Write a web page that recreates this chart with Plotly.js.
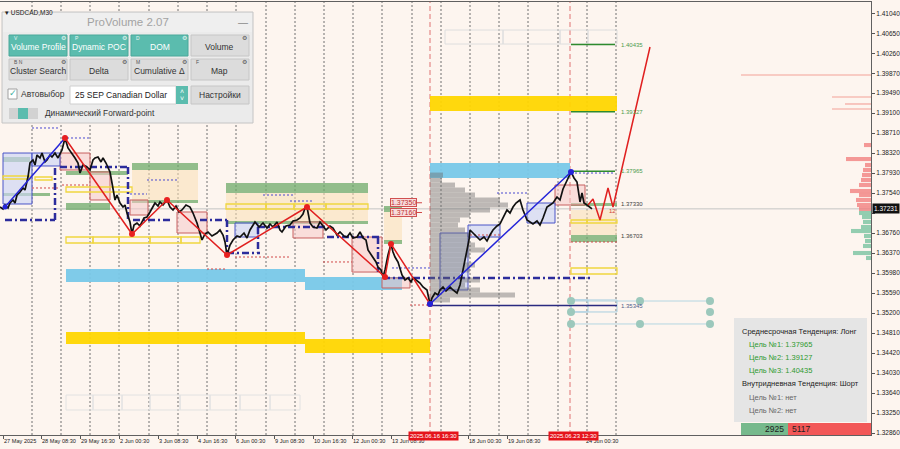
<!DOCTYPE html>
<html><head><meta charset="utf-8">
<script src="https://cdn.plot.ly/plotly-3.0.1.min.js"></script>
<style>html,body{margin:0;padding:0;background:#fdf5ef;}#chart{width:900px;height:449px;}</style>
</head><body><div id="chart"></div>
<script>
// ---------- DATA ----------
const pricePath = [[0,1.37267],[3,1.37228],[5,1.37306],[8,1.37248],[10,1.37345],[13,1.37404],[15,1.37345],[17,1.37501],[20,1.37560],[23,1.37638],[25,1.37599],[28,1.37852],[30,1.38125],[33,1.38184],[35,1.38086],[37,1.38281],[40,1.38223],[42,1.38320],[45,1.38145],[47,1.38184],[50,1.38281],[52,1.38242],[55,1.38320],[58,1.38223],[62,1.38379],[65,1.38613],[68,1.38418],[72,1.38320],[75,1.38223],[78,1.38125],[80,1.37930],[83,1.38086],[87,1.38047],[90,1.37989],[93,1.38184],[95,1.38223],[98,1.38242],[101,1.38145],[103,1.38223],[106,1.38125],[108,1.38047],[110,1.37950],[112,1.37735],[115,1.37404],[117,1.37501],[120,1.37345],[123,1.37267],[125,1.37306],[127,1.37150],[130,1.36975],[132,1.36741],[134,1.36916],[137,1.36955],[140,1.36897],[144,1.37053],[147,1.37072],[150,1.37170],[153,1.37267],[155,1.37345],[158,1.37287],[160,1.37365],[163,1.37306],[167,1.37404],[170,1.37267],[173,1.37209],[176,1.37287],[179,1.37170],[182,1.37209],[186,1.37306],[190,1.37267],[193,1.37150],[197,1.36955],[200,1.36780],[202,1.36624],[205,1.36741],[208,1.36780],[212,1.36702],[217,1.36760],[220,1.36819],[223,1.36721],[225,1.36585],[227,1.36331],[230,1.36526],[233,1.36624],[237,1.36702],[240,1.36682],[244,1.36760],[247,1.36663],[250,1.36819],[253,1.36916],[255,1.36975],[259,1.36877],[263,1.36955],[267,1.36858],[270,1.36936],[273,1.36877],[277,1.36975],[280,1.36819],[282,1.36780],[286,1.36897],[290,1.36916],[293,1.36994],[297,1.37014],[300,1.37053],[303,1.37131],[305,1.37248],[307,1.37267],[310,1.36955],[313,1.36877],[317,1.36858],[320,1.36975],[323,1.36897],[326,1.36819],[330,1.36897],[333,1.36858],[337,1.36721],[340,1.36780],[344,1.36702],[347,1.36682],[350,1.36760],[353,1.36663],[357,1.36682],[360,1.36780],[363,1.36663],[366,1.36624],[368,1.36429],[370,1.36370],[373,1.36273],[376,1.36195],[378,1.36097],[381,1.36039],[383,1.35902],[385,1.36039],[388,1.36331],[391,1.36546],[393,1.36390],[395,1.36292],[398,1.36195],[400,1.36078],[402,1.35941],[405,1.35844],[408,1.35883],[411,1.35805],[413,1.35883],[416,1.35844],[420,1.35785],[423,1.35707],[427,1.35649],[430,1.35376],[432,1.35493],[435,1.35590],[438,1.35551],[440,1.35649],[443,1.35707],[446,1.35629],[450,1.35707],[453,1.35649],[457,1.35590],[460,1.35746],[463,1.36039],[465,1.36234],[467,1.36429],[469,1.36624],[470,1.36819],[473,1.36760],[477,1.36682],[480,1.36624],[484,1.36682],[487,1.36604],[490,1.36721],[493,1.36819],[497,1.36897],[500,1.36936],[503,1.37053],[507,1.37209],[510,1.37150],[513,1.37267],[516,1.37345],[520,1.37404],[523,1.37209],[527,1.37014],[530,1.36975],[533,1.36936],[537,1.36994],[540,1.36916],[543,1.37053],[547,1.37267],[550,1.37306],[553,1.37345],[557,1.37462],[560,1.37404],[563,1.37618],[566,1.37755],[568,1.37833],[571,1.37950],[574,1.37833],[577,1.37755],[579,1.37501],[580,1.37365],[582,1.37540],[584,1.37345],[587,1.37306],[590,1.37267],[592,1.37231]];
const lastPrice = 1.37231;

const zzBlue1Bars = [5,65],   zzBlue1Price = [1.37267,1.38613];
const zzRedBars = [65,132,167,227,307,385,391,430];
const zzRedPrice = [1.38613,1.36741,1.37404,1.36331,1.37267,1.35902,1.36546,1.35376];
const zzBlue2Bars = [430,571], zzBlue2Price = [1.35376,1.37950];
const forecastBars = [588,593,600,608,613,650];
const forecastPrice = [1.37306,1.37423,1.37014,1.37638,1.37267,1.40387];

const vpPrice = [1.37891,1.37794,1.37696,1.37599,1.37501,1.37404,1.37306,1.37209,1.37111,1.37014,1.36916,1.36819,1.36721,1.36624,1.36526,1.36429,1.36331,1.36234,1.36136,1.36039,1.35941,1.35844,1.35746,1.35649,1.35551,1.35454];
const vpVolume = [13,12,25,35,45,70,78,60,40,30,28,35,40,38,45,55,40,35,45,40,30,50,35,50,85,20];

const rhUpPrice = [1.38476,1.38203,1.38086,1.37989,1.37891,1.37794,1.37696,1.37579,1.37501,1.37404,1.37306,1.37228];
const rhUpVol = [7,25,6,8,9,10,12,21,12,15,14,12];
const rhDnPrice = [1.37150,1.37072,1.36975,1.36877,1.36799,1.36702,1.36604,1.36507,1.36370,1.36273];
const rhDnVol = [12,9,8,10,20,7,6,8,18,5];
const rhThinPrice = [1.39841,1.39412,1.39276,1.39178];
const rhThinVol = [130,39,26,39];

const peachZones = [[132,198,1.37989,1.37404],[226,368,1.37540,1.36994],[384,402,1.37170,1.36604],[571,617,1.37209,1.36721]];
const greenZones = [[3,30,1.38242,1.38145],[3,50,1.37540,1.37482],[66,128,1.37969,1.37891],[66,110,1.37345,1.37209],[132,198,1.38125,1.37989],[132,198,1.37404,1.37345],[226,368,1.37735,1.37540],[226,368,1.36994,1.36936],[384,402,1.37287,1.37170],[384,402,1.36624,1.36546],[571,617,1.36721,1.36585],[571,617,1.37345,1.37287]];
const skyZones = [[66,305,1.36058,1.35805],[305,402,1.35902,1.35649],[430,570,1.38125,1.37833]];
const goldZones = [[66,305,1.34830,1.34596],[305,430,1.34693,1.34420],[430,617,1.39432,1.39139]];
const pinkBoxes = [[60,90,1.38320,1.37989],[90,110,1.37950,1.37404],[130,148,1.37404,1.37111],[177,207,1.37170,1.36760],[293,323,1.36975,1.36663],[352,382,1.36682,1.35999],[382,410,1.35883,1.35688],[555,585,1.37696,1.37306]];
const vaBoxes = [[3,32,1.38320,1.37326],[32,60,1.38320,1.38067],[235,258,1.36955,1.36682],[440,468,1.36760,1.35649],[468,500,1.36916,1.36682],[527,555,1.37345,1.36955]];
const goldOutlines = [[3,30,1.37872,1.37813],[35,52,1.37852,1.37794],[66,132,1.37657,1.37560],[66,93,1.36682,1.36565],[93,119,1.36682,1.36565],[119,150,1.36682,1.36565],[150,181,1.36682,1.36565],[181,200,1.36682,1.36565],[226,266,1.37326,1.37228],[266,294,1.37326,1.37228],[294,326,1.37326,1.37228],[326,368,1.37326,1.37228],[571,587,1.37014,1.36955],[587,617,1.37014,1.36955],[571,587,1.36078,1.35961],[587,617,1.36078,1.35961]];
const navySegs = [[5,1.37014,55,1.37014],[55,1.38028,55,1.37014],[60,1.38047,128,1.38047],[128,1.38047,128,1.37014],[133,1.37014,170,1.37014],[200,1.37014,227,1.37014],[227,1.37014,227,1.36370],[227,1.36370,260,1.36370],[258,1.36877,258,1.36370],[258,1.36877,333,1.36877],[327,1.36682,380,1.36682],[378,1.36682,378,1.35999],[383,1.35883,592,1.35883]];
const blueDots = [[32,60,1.38808],[67,90,1.38613],[147,177,1.37794],[130,147,1.37521],[263,293,1.37501],[290,312,1.37384],[392,430,1.36078],[497,527,1.37540],[571,613,1.37930]];
const redDots = [[32,60,1.37638],[207,227,1.36058],[235,290,1.36292],[323,352,1.36195],[470,500,1.36721],[571,617,1.36585],[410,430,1.35356],[62,90,1.37696]];
const topBoxes = [[445,503],[503,560],[560,588],[588,617]], topBoxPrice = [1.40719,1.40446];
const lowBoxes = [[66,93],[93,122],[122,150],[150,180],[180,210],[210,240],[240,270],[270,300]], lowBoxPrice = [1.33601,1.33309];
const supportLine = [430,617,1.35345];

const targetPrice = [1.40435,1.39127,1.37965];
const levelPrice = [1.37330,1.36703,1.35345];
const markPrice = [1.37350,1.37160];

const circBars = [571,571,571,640,640,710,710,710];
const circPrice = [1.35434,1.35220,1.34986,1.35434,1.34986,1.35434,1.35220,1.34986];

const yTickVals = [1.41040,1.40650,1.40260,1.39870,1.39490,1.39100,1.38710,1.38320,1.37930,1.37540,1.37150,1.36760,1.36370,1.35980,1.35590,1.35200,1.34810,1.34420,1.34030,1.33640,1.33250,1.32860];
const xTickBars = [3,41,80,119,158,197,235,274,313,352,391,468,507,585];
const xTickText = ["27 May 2025","28 May 08:30","29 May 16:30","2 Jun 00:30","3 Jun 08:30","4 Jun 16:30","6 Jun 00:30","9 Jun 08:30","10 Jun 16:30","12 Jun 00:30","13 Jun 08:30","18 Jun 00:30","19 Jun 08:30","24 Jun 00:30"];
const gridBars = [32,61,90,119,149,178,207,236,266,295,324,353,382,412,441,470,499,528,558,587,616];
const eventBars = [430,570];
const eventText = ["2025.06.16 16:30","2025.06.23 12:30"];

const buttons = ["Volume Profile","Dynamic POC","DOM","Volume","Cluster Search","Delta","Cumulative Δ","Map"];
const btnActive = [true,true,true,false,false,false,false,false];
const btnKeys = ["V","P","D","","B N","","M","F"];
const infoLines = ["Среднесрочная Тенденция: Лонг","Цель №1: 1.37965","Цель №2: 1.39127","Цель №3: 1.40435","Внутридневная Тенденция: Шорт","Цель №1: нет","Цель №2: нет"];
const deltaBuy = "2925", deltaSell = "5117";

// ---------- BUILD ----------
const F = "Liberation Sans, Arial, sans-serif";
const PX = v => v/871, PY = v => (435 - v)/433;
const shapes = [], ann = [];

gridBars.forEach(b => shapes.push({type:'line',xref:'x',yref:'paper',x0:b,x1:b,y0:0,y1:1,line:{color:'#707070',width:1,dash:'2px,2px'},layer:'below'}));
shapes.push({type:'line',xref:'paper',yref:'y',x0:0,x1:1,y0:lastPrice,y1:lastPrice,line:{color:'#c4c4c4',width:1},layer:'below'});
eventBars.forEach(b => shapes.push({type:'line',xref:'x',yref:'paper',x0:b,x1:b,y0:0,y1:1,line:{color:'#df7373',width:1,dash:'5px,3px'},layer:'below'}));

function zone(z, fill, line, lw){ shapes.push({type:'rect',xref:'x',yref:'y',x0:z[0],x1:z[1],y0:z[2],y1:z[3],fillcolor:fill,line:{color:line||'rgba(0,0,0,0)',width:line?(lw||1):0},layer:'below'}); }
peachZones.forEach(z => zone(z,'rgba(250,222,180,0.55)'));
greenZones.forEach(z => zone(z,'rgba(110,170,105,0.75)'));
skyZones.forEach(z => zone(z,'rgba(120,200,232,0.95)'));
goldZones.forEach(z => zone(z,'rgba(255,214,0,0.95)'));
pinkBoxes.forEach(z => zone(z,'rgba(245,200,200,0.55)','#c86060',1));
vaBoxes.forEach(z => zone(z,'rgba(205,212,245,0.65)','#4b55c8',1));
goldOutlines.forEach(z => zone(z,'rgba(0,0,0,0)','#f0d640',1.3));
topBoxes.forEach(b => zone([b[0],b[1],topBoxPrice[0],topBoxPrice[1]],'rgba(0,0,0,0)','#dedede',1));
lowBoxes.forEach(b => zone([b[0],b[1],lowBoxPrice[0],lowBoxPrice[1]],'rgba(0,0,0,0)','#e2e2e2',1));
zone([571,617,1.35454,1.35220],'rgba(0,0,0,0)','#a8cfe0',1);
zone([571,588,1.35454,1.35220],'rgba(0,0,0,0)','#a8cfe0',1);

blueDots.forEach(s => shapes.push({type:'line',xref:'x',yref:'y',x0:s[0],x1:s[1],y0:s[2],y1:s[2],line:{color:'#4848d0',width:1,dash:'2px,2px'},layer:'below'}));
redDots.forEach(s => shapes.push({type:'line',xref:'x',yref:'y',x0:s[0],x1:s[1],y0:s[2],y1:s[2],line:{color:'#d04848',width:1,dash:'2px,2px'},layer:'below'}));
navySegs.forEach(s => shapes.push({type:'line',xref:'x',yref:'y',x0:s[0],y0:s[1],x1:s[2],y1:s[3],line:{color:'#2c2c9c',width:2.5,dash:'7px,3px,2px,3px'},layer:'below'}));
shapes.push({type:'line',xref:'x',yref:'y',x0:supportLine[0],x1:supportLine[1],y0:supportLine[2],y1:supportLine[2],line:{color:'#2a2a80',width:1.5},layer:'below'});
[circPrice[0],circPrice[2]].forEach(p => shapes.push({type:'line',xref:'x',yref:'y',x0:571,x1:710,y0:p,y1:p,line:{color:'#b4d6e2',width:1},layer:'below'}));
targetPrice.forEach(p => shapes.push({type:'line',xref:'x',yref:'y',x0:571,x1:615,y0:p,y1:p,line:{color:'#2e8b2e',width:1.5},layer:'below'}));
markPrice.forEach(p => shapes.push({type:'line',xref:'x',yref:'y',x0:416,x1:422,y0:p,y1:p,line:{color:'#d04848',width:1}}));

targetPrice.forEach(p => ann.push({xref:'x',yref:'y',x:619,y:p,text:p.toFixed(5),showarrow:false,xanchor:'left',font:{family:F,size:6,color:'#4c9c4c'}}));
levelPrice.forEach((p,i) => ann.push({xref:'x',yref:'y',x:619,y:p,text:p.toFixed(5),showarrow:false,xanchor:'left',font:{family:F,size:6,color:i==2?'#50608a':'#404040'}}));
markPrice.forEach(p => ann.push({xref:'x',yref:'y',x:403,y:p,text:p.toFixed(5),showarrow:false,font:{family:F,size:7,color:'#c03030'},bgcolor:'#f8dcdc',bordercolor:'#d05050',borderwidth:1,borderpad:0}));
ann.push({xref:'x',yref:'y',x:612,y:1.37190,text:'12',showarrow:false,font:{family:F,size:6,color:'#d04040'}});

eventBars.forEach((b,i) => ann.push({xref:'x',yref:'paper',x:b+3,y:PY(441),text:eventText[i],showarrow:false,font:{family:F,size:6,color:'#fff'},bgcolor:'#e5141b',borderpad:1}));
ann.push({xref:'paper',yref:'y',x:PX(872),y:lastPrice,xanchor:'left',text:lastPrice.toFixed(5),showarrow:false,font:{family:F,size:6.5,color:'#fff'},bgcolor:'#111',borderpad:1});
ann.push({xref:'paper',yref:'paper',x:PX(3),y:PY(7),xanchor:'left',text:'▾ USDCAD,M30',showarrow:false,font:{family:F,size:6.5,color:'#222'}});

function box(x0,y0,x1,y1,fill,line,lw){ shapes.push({type:'rect',xref:'paper',yref:'paper',x0:PX(x0),x1:PX(x1),y0:PY(y1),y1:PY(y0),fillcolor:fill,line:{color:line||'rgba(0,0,0,0)',width:line?(lw||1):0},layer:'above'}); }
function txt(x,y,t,size,color,anchor){ ann.push({xref:'paper',yref:'paper',x:PX(x),y:PY(y),text:t,showarrow:false,xanchor:anchor||'center',yanchor:'middle',font:{family:F,size:size,color:color}}); }

// Panel
box(2,12,253,123,'#ebebeb','#c4c4c4');
box(3,13,252,32,'#efefef');
txt(128,22,'ProVolume 2.07',11.5,'#a3a3a3');
txt(243,23,'—',10,'#8a8a8a');
const cols = [[9,67],[70,128],[131,188],[191,249]], rows = [[35,56],[59,80]];
buttons.forEach((b,i) => {
  const c = cols[i%4], r = rows[Math.floor(i/4)];
  box(c[0],r[0],c[1],r[1], btnActive[i]?'#5bbcae':'#dcdcdc', btnActive[i]?'#4aa89a':'#c6c6c6');
  txt((c[0]+c[1])/2, r[0]+12, b, 8.5, btnActive[i]?'#ffffff':'#333333');
  txt(c[1]-4, r[0]+3.5, '⚙', 5.5, btnActive[i]?'#e8f6f4':'#555');
  if (btnKeys[i]) txt(c[0]+3, r[0]+3.5, btnKeys[i], 5, btnActive[i]?'#e8f6f4':'#555', 'left');
});
box(8,89,17,99,'#ffffff','#a0a0a0');
txt(12.5,93.5,'✓',9,'#3fb0a0');
txt(19,94,'Автовыбор',8.5,'#333','left');
box(70,86,176,104,'#ffffff','#cfcfcf');
txt(73,95,'25 SEP Canadian Dollar',8.5,'#222','left');
box(176,86,188,104,'#5bbcae');
txt(182,91,'˄',7,'#ffffff'); txt(182,99,'˅',7,'#ffffff');
box(191,86,249,104,'#dcdcdc','#c6c6c6');
txt(220,95,'Настройки',8.5,'#333');
box(9,108,38,119,'#d2d2d2');
box(18,108,28,119,'#5bbcae');
txt(43,113,'Динамический Forward-point',8.3,'#333','left');

// Info box
box(734,318,867,422,'#e5e5e5');
const infoY = [331,344,357,370,383,397,410];
infoLines.forEach((t,i) => {
  const green = i>=1 && i<=3, grey = i>=5;
  txt(green||grey?747:740, infoY[i], t, 7.5, green?'#2f9a2f':(grey?'#666':'#222'), 'left');
});
box(741,423,788,435,'#76b98c');
box(788,423,871,435,'#f25757');
txt(786,429,deltaBuy,8.5,'#222','right');
txt(790,429,deltaSell,8.5,'#222','left');

// ---------- TRACES ----------
const traces = [
  {type:'bar',orientation:'h',y:vpPrice,x:vpVolume,base:430,width:0.00096,marker:{color:'rgba(110,110,110,0.45)',line:{width:0}}},
  {type:'bar',orientation:'h',y:rhUpPrice,x:rhUpVol.map(v=>-v),base:871,width:0.0008,marker:{color:'rgba(240,120,120,0.75)',line:{width:0}}},
  {type:'bar',orientation:'h',y:rhDnPrice,x:rhDnVol.map(v=>-v),base:871,width:0.0008,marker:{color:'rgba(120,195,160,0.8)',line:{width:0}}},
  {type:'bar',orientation:'h',y:rhThinPrice,x:rhThinVol.map(v=>-v),base:871,width:0.00022,marker:{color:'rgba(240,140,130,0.8)',line:{width:0}}},
  {type:'scatter',mode:'lines',x:pricePath.map(d=>d[0]),y:pricePath.map(d=>d[1]),line:{color:'#111',width:1.7}},
  {type:'scatter',mode:'lines+markers',x:zzBlue1Bars,y:zzBlue1Price,line:{color:'#2424d8',width:1.5},marker:{size:5,color:'#2424d8'}},
  {type:'scatter',mode:'lines+markers',x:zzRedBars,y:zzRedPrice,line:{color:'#e02020',width:1.5},marker:{size:6,color:'#e82020'}},
  {type:'scatter',mode:'lines+markers',x:zzBlue2Bars,y:zzBlue2Price,line:{color:'#2424d8',width:1.5},marker:{size:6,color:'#2424d8'}},
  {type:'scatter',mode:'lines',x:forecastBars,y:forecastPrice,line:{color:'#e02020',width:1.5}},
  {type:'scatter',mode:'markers',x:circBars,y:circPrice,marker:{size:8,color:'#9cc8bc'}}
];

const layout = {
  width:900,height:449,margin:{l:0,r:29,t:2,b:14},
  paper_bgcolor:'#fdf5ef',plot_bgcolor:'#fdf5ef',showlegend:false,barmode:'overlay',
  xaxis:{range:[0,871],showgrid:false,zeroline:false,showline:true,mirror:true,linecolor:'#606060',linewidth:1,
    tickmode:'array',tickvals:xTickBars,ticktext:xTickText,ticks:'outside',ticklen:3,tickcolor:'#555',tickangle:0,
    ticklabelposition:'outside right',tickfont:{family:F,size:5.6,color:'#222'},fixedrange:true},
  yaxis:{range:[1.32821,1.41265],side:'right',showgrid:false,zeroline:false,showline:true,mirror:true,linecolor:'#606060',linewidth:1,
    tickmode:'array',tickvals:yTickVals,ticktext:yTickVals.map(v=>Math.abs(v-lastPrice)<0.0012?'':v.toFixed(5)),ticks:'outside',ticklen:3,tickcolor:'#555',
    tickfont:{family:F,size:6.5,color:'#222'},fixedrange:true},
  shapes:shapes,annotations:ann
};
Plotly.newPlot('chart',traces,layout,{staticPlot:true,displayModeBar:false});
</script></body></html>
